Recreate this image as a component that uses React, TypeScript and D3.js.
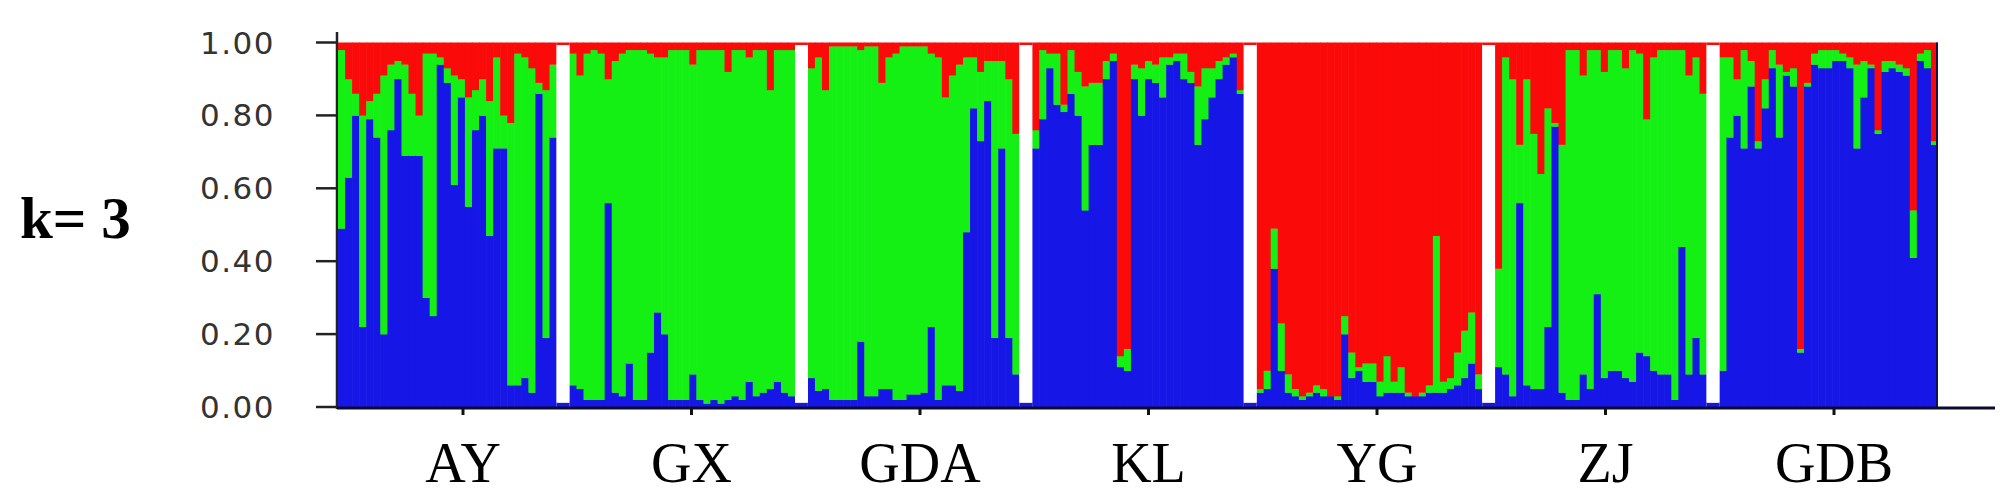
import React from "react";
import * as d3 from "d3";

// Populations (x categories) and axis ticks
const POPS = ["AY", "GX", "GDA", "KL", "YG", "ZJ", "GDB"];
const Y_TICKS = [0, 0.2, 0.4, 0.6, 0.8, 1.0];
const K_LABEL = "k= 3";

// Membership proportions per individual: blue cluster (bottom) and red cluster (top).
// Green cluster = remainder (1 - blue - red).
const AY_BLUE = [0.49, 0.63, 0.80, 0.22, 0.79, 0.74, 0.20, 0.76, 0.90, 0.69, 0.69, 0.69, 0.30, 0.25, 0.94, 0.89, 0.61, 0.85, 0.55, 0.76, 0.80, 0.47, 0.71, 0.71, 0.06, 0.06, 0.08, 0.04, 0.86, 0.19, 0.74];
const AY_RED = [0.02, 0.10, 0.14, 0.20, 0.16, 0.14, 0.09, 0.06, 0.05, 0.06, 0.14, 0.20, 0.03, 0.03, 0.04, 0.07, 0.09, 0.10, 0.15, 0.13, 0.10, 0.16, 0.04, 0.20, 0.22, 0.03, 0.04, 0.07, 0.11, 0.13, 0.06];

const GX_BLUE = [0.06, 0.05, 0.02, 0.02, 0.02, 0.56, 0.04, 0.03, 0.12, 0.02, 0.02, 0.15, 0.26, 0.20, 0.02, 0.02, 0.02, 0.09, 0.02, 0.01, 0.02, 0.01, 0.02, 0.03, 0.02, 0.07, 0.03, 0.04, 0.05, 0.07, 0.04, 0.03];
const GX_RED = [0.03, 0.09, 0.03, 0.02, 0.03, 0.10, 0.05, 0.03, 0.02, 0.02, 0.02, 0.03, 0.04, 0.04, 0.02, 0.02, 0.02, 0.06, 0.02, 0.02, 0.02, 0.02, 0.08, 0.02, 0.02, 0.04, 0.02, 0.02, 0.13, 0.02, 0.02, 0.02];

const GDA_BLUE = [0.08, 0.045, 0.05, 0.02, 0.02, 0.02, 0.02, 0.18, 0.03, 0.03, 0.05, 0.05, 0.02, 0.02, 0.035, 0.035, 0.04, 0.22, 0.02, 0.06, 0.06, 0.045, 0.48, 0.82, 0.73, 0.84, 0.19, 0.71, 0.19, 0.09];
const GDA_RED = [0.07, 0.04, 0.13, 0.01, 0.01, 0.01, 0.01, 0.02, 0.01, 0.01, 0.11, 0.04, 0.03, 0.01, 0.01, 0.01, 0.01, 0.03, 0.04, 0.15, 0.09, 0.06, 0.04, 0.04, 0.08, 0.05, 0.05, 0.05, 0.10, 0.25];

const KL_BLUE = [0.71, 0.79, 0.93, 0.83, 0.81, 0.86, 0.80, 0.54, 0.72, 0.72, 0.90, 0.95, 0.11, 0.10, 0.90, 0.80, 0.90, 0.89, 0.85, 0.94, 0.95, 0.90, 0.89, 0.72, 0.79, 0.85, 0.90, 0.94, 0.96, 0.86];
const KL_RED = [0.24, 0.02, 0.03, 0.03, 0.17, 0.02, 0.08, 0.12, 0.11, 0.11, 0.05, 0.03, 0.86, 0.84, 0.06, 0.07, 0.05, 0.06, 0.04, 0.04, 0.03, 0.03, 0.08, 0.12, 0.07, 0.07, 0.05, 0.04, 0.03, 0.13];

const YG_BLUE = [0.04, 0.05, 0.38, 0.10, 0.04, 0.03, 0.02, 0.03, 0.04, 0.03, 0.03, 0.02, 0.20, 0.08, 0.10, 0.07, 0.07, 0.03, 0.04, 0.04, 0.04, 0.03, 0.03, 0.03, 0.04, 0.04, 0.04, 0.05, 0.06, 0.08, 0.12, 0.05];
const YG_RED = [0.95, 0.90, 0.51, 0.77, 0.91, 0.95, 0.97, 0.96, 0.94, 0.95, 0.97, 0.97, 0.75, 0.85, 0.89, 0.88, 0.88, 0.93, 0.86, 0.93, 0.89, 0.96, 0.97, 0.96, 0.94, 0.53, 0.93, 0.92, 0.85, 0.79, 0.74, 0.91];

const ZJ_BLUE = [0.11, 0.09, 0.03, 0.56, 0.06, 0.05, 0.05, 0.22, 0.77, 0.04, 0.02, 0.02, 0.09, 0.05, 0.31, 0.08, 0.10, 0.10, 0.08, 0.07, 0.15, 0.14, 0.10, 0.09, 0.09, 0.02, 0.44, 0.09, 0.19, 0.09];
const ZJ_RED = [0.62, 0.04, 0.10, 0.28, 0.10, 0.25, 0.36, 0.18, 0.22, 0.28, 0.02, 0.02, 0.09, 0.02, 0.02, 0.08, 0.02, 0.02, 0.07, 0.02, 0.03, 0.21, 0.04, 0.02, 0.02, 0.02, 0.02, 0.09, 0.04, 0.14];

const GDB_BLUE = [0.10, 0.74, 0.80, 0.71, 0.88, 0.71, 0.82, 0.93, 0.74, 0.91, 0.88, 0.15, 0.88, 0.94, 0.93, 0.93, 0.95, 0.95, 0.93, 0.71, 0.85, 0.93, 0.75, 0.92, 0.93, 0.92, 0.91, 0.41, 0.95, 0.93, 0.72];
const GDB_RED = [0.04, 0.04, 0.10, 0.02, 0.05, 0.27, 0.10, 0.02, 0.06, 0.08, 0.07, 0.84, 0.11, 0.03, 0.02, 0.02, 0.02, 0.03, 0.04, 0.06, 0.05, 0.06, 0.24, 0.05, 0.05, 0.06, 0.07, 0.46, 0.03, 0.02, 0.27];

const BLUE_SERIES = [AY_BLUE, GX_BLUE, GDA_BLUE, KL_BLUE, YG_BLUE, ZJ_BLUE, GDB_BLUE];
const RED_SERIES = [AY_RED, GX_RED, GDA_RED, KL_RED, YG_RED, ZJ_RED, GDB_RED];

const C_BLUE = "#1616e6";
const C_GREEN = "#14f014";
const C_RED = "#fb0a0a";

export default function App() {
  const W = 2001;
  const H = 497;
  const left = 338;
  const right = 1938;
  const top = 42.5;
  const bottom = 407;
  const gapUnits = 1.82;

  const groups = POPS.map((name, i) => ({ name, blue: BLUE_SERIES[i], red: RED_SERIES[i] }));
  const total = d3.sum(groups, (g) => g.blue.length) + gapUnits * (groups.length - 1);
  const x = d3.scaleLinear().domain([0, total]).range([left, right]);
  const y = d3.scaleLinear().domain([0, 1]).range([bottom, top]);
  const xPop = d3.scalePoint<string>().domain(POPS).range([463, 1834]);

  let offset = 0;
  const bars: React.ReactNode[] = [];
  const gaps: React.ReactNode[] = [];
  groups.forEach((g, gi) => {
    const n = g.blue.length;
    for (let i = 0; i < n; i++) {
      const b = g.blue[i];
      const r = g.red[i];
      const gr = Math.max(0, 1 - b - r);
      const x0 = x(offset + i);
      const x1 = x(offset + i + 1);
      const w = x1 - x0 + (i < n - 1 ? 0.6 : 0);
      const segs = [
        { v0: 0, v1: b, c: C_BLUE },
        { v0: b, v1: b + gr, c: C_GREEN },
        { v0: b + gr, v1: 1, c: C_RED },
      ];
      segs.forEach((s, si) => {
        if (s.v1 - s.v0 <= 0) return;
        bars.push(
          <rect key={`${g.name}-${i}-${si}`} x={x0} y={y(s.v1)} width={w} height={y(s.v0) - y(s.v1) + 0.3} fill={s.c} />
        );
      });
    }
    offset += n;
    if (gi < groups.length - 1) {
      const gx0 = x(offset);
      const gx1 = x(offset + gapUnits);
      gaps.push(
        <g key={`gap-${gi}`}>
          <rect x={gx0} y={y(1)} width={gx1 - gx0} height={y(0.993) - y(1)} fill={C_RED} />
          <rect x={gx0} y={y(0.012)} width={gx1 - gx0} height={y(0) - y(0.012)} fill={C_BLUE} />
          <rect x={gx0} y={y(0.993)} width={gx1 - gx0} height={y(0.012) - y(0.993)} fill="#ffffff" />
        </g>
      );
      offset += gapUnits;
    }
  });

  return (
    <svg width={W} height={H} style={{ position: "absolute", left: 0, top: 0, background: "#fff" }}>
      <text x={20} y={238} fontFamily="'Liberation Serif', 'Times New Roman', serif" fontWeight="bold" fontSize={59} fill="#000">
        {K_LABEL}
      </text>
      {/* y axis */}
      <line x1={337} x2={337} y1={32} y2={409} stroke="#222" strokeWidth={2.5} />
      {Y_TICKS.map((t) => (
        <g key={t}>
          <line x1={316} x2={337} y1={y(t)} y2={y(t)} stroke="#222" strokeWidth={2.5} />
          <text x={275} y={y(t)} textAnchor="end" dominantBaseline="central" fontFamily="'DejaVu Sans', sans-serif" fontSize={31} letterSpacing={1.5} fill="#333">
            {t.toFixed(2)}
          </text>
        </g>
      ))}
      {bars}
      {gaps}
      <line x1={right - 1} x2={right - 1} y1={top} y2={bottom} stroke="#10104a" strokeWidth={2} />
      {/* x baseline */}
      <line x1={337} x2={1995} y1={408} y2={408} stroke="#0c0c30" strokeWidth={3} />
      {POPS.map((p) => (
        <g key={p}>
          <line x1={xPop(p)} x2={xPop(p)} y1={408} y2={415} stroke="#111" strokeWidth={3} />
          <text x={xPop(p)} y={482} textAnchor="middle" fontFamily="'Liberation Serif', 'Times New Roman', serif" fontSize={56} fill="#000">
            {p}
          </text>
        </g>
      ))}
    </svg>
  );
}
